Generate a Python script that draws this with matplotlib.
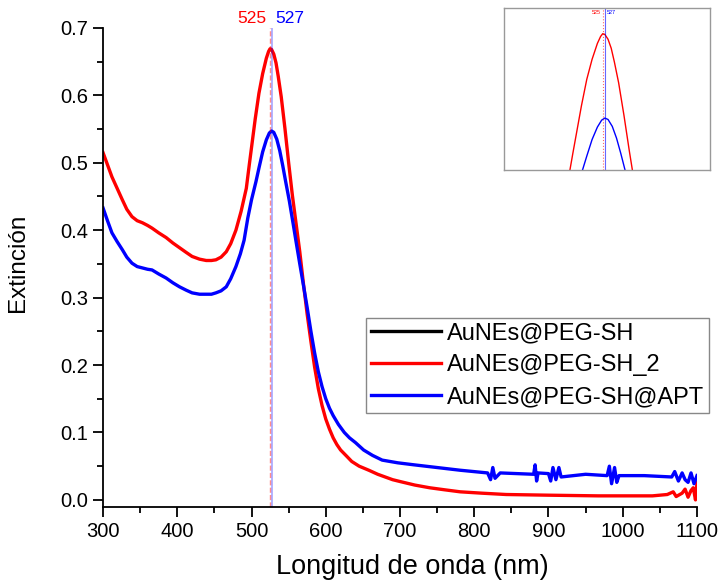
import numpy as np
import matplotlib
matplotlib.use("Agg")
import matplotlib.pyplot as plt
from matplotlib.ticker import MultipleLocator

plt.rcParams['font.family'] = ['Liberation Sans', 'DejaVu Sans']

# Spektren
wl_red = [300, 306, 312, 319, 326, 332, 339, 346, 353, 360, 366, 375, 385, 394, 403,
          412, 420, 430, 439, 446, 452, 459, 466, 472, 479, 486, 493, 497, 501, 505,
          510, 515, 520, 523, 525, 527, 530, 533, 536, 540, 545, 550, 555, 560, 565,
          570, 575, 580, 585, 590, 595, 600, 605, 610, 615, 620, 628, 635, 645, 658,
          670, 680, 690, 701, 720, 740, 760, 781, 810, 843, 900, 967, 1000, 1040, 1060,
          1068, 1072, 1080, 1084, 1088, 1092, 1095, 1098, 1100]
ext_red = [0.515, 0.497, 0.479, 0.462, 0.445, 0.431, 0.420, 0.414, 0.411, 0.407, 0.403,
           0.396, 0.389, 0.381, 0.374, 0.367, 0.361, 0.357, 0.355, 0.355, 0.356, 0.360,
           0.368, 0.380, 0.400, 0.428, 0.462, 0.497, 0.531, 0.565, 0.603, 0.632, 0.655,
           0.665, 0.669, 0.668, 0.661, 0.648, 0.628, 0.598, 0.551, 0.500, 0.452, 0.410,
           0.368, 0.320, 0.275, 0.235, 0.197, 0.165, 0.140, 0.120, 0.105, 0.092, 0.082,
           0.074, 0.065, 0.057, 0.050, 0.044, 0.038, 0.034, 0.030, 0.027, 0.022, 0.018,
           0.015, 0.012, 0.010, 0.008, 0.007, 0.006, 0.006, 0.006, 0.008, 0.012, 0.005,
           0.010, 0.016, 0.004, 0.014, 0.018, 0.000, 0.026]

wl_blue = [300, 306, 312, 319, 326, 332, 339, 346, 353, 360, 366, 375, 385, 394, 403,
           412, 420, 430, 439, 446, 452, 459, 466, 472, 479, 485, 490, 495, 500, 506,
           510, 515, 520, 524, 527, 530, 534, 538, 542, 546, 551, 556, 560, 565, 570,
           575, 580, 585, 590, 595, 600, 605, 610, 617, 625, 632, 640, 651, 663, 676,
           697, 719, 750, 781, 818, 822, 825, 828, 835, 880, 882, 884, 886, 900, 903,
           906, 910, 914, 917, 950, 979, 982, 985, 989, 992, 995, 1029, 1066, 1070,
           1075, 1080, 1084, 1088, 1092, 1096, 1100]
ext_blue = [0.433, 0.414, 0.396, 0.383, 0.371, 0.360, 0.351, 0.346, 0.344, 0.342, 0.341,
            0.335, 0.329, 0.322, 0.316, 0.311, 0.307, 0.305, 0.305, 0.305, 0.307, 0.310,
            0.316, 0.328, 0.346, 0.365, 0.385, 0.418, 0.445, 0.472, 0.492, 0.516, 0.534,
            0.544, 0.547, 0.545, 0.535, 0.518, 0.496, 0.472, 0.443, 0.410, 0.383, 0.350,
            0.318, 0.285, 0.250, 0.218, 0.190, 0.168, 0.150, 0.136, 0.125, 0.112, 0.100,
            0.092, 0.085, 0.074, 0.066, 0.059, 0.055, 0.052, 0.048, 0.044, 0.040, 0.030,
            0.048, 0.032, 0.040, 0.038, 0.052, 0.028, 0.040, 0.039, 0.028, 0.048, 0.030,
            0.048, 0.034, 0.038, 0.036, 0.050, 0.024, 0.048, 0.026, 0.036, 0.036, 0.034,
            0.042, 0.028, 0.040, 0.030, 0.026, 0.040, 0.024, 0.036]

labels = ["AuNEs@PEG-SH", "AuNEs@PEG-SH_2", "AuNEs@PEG-SH@APT"]
peaks = [525, 527]

fig = plt.figure(figsize=(7.23, 5.8), dpi=100)
ax = fig.add_axes([0.1425, 0.126, 0.8215, 0.826])

ax.plot([], [], color='black', lw=2.4, label=labels[0])
ax.plot(wl_red, ext_red, color='red', lw=2.4, label=labels[1])
ax.plot(wl_blue, ext_blue, color='blue', lw=2.4, label=labels[2])

ax.axvline(peaks[0], color='red', ls='--', lw=1, alpha=0.45)
ax.axvline(peaks[1], color='blue', lw=1.2, alpha=0.35)
ax.text(peaks[0] - 5, 0.703, str(peaks[0]), color='red', fontsize=12.5, ha='right', va='bottom')
ax.text(peaks[1] + 5, 0.703, str(peaks[1]), color='blue', fontsize=12.5, ha='left', va='bottom')

ax.set_xlim(300, 1100)
ax.set_ylim(-0.0104, 0.7)
ax.xaxis.set_major_locator(MultipleLocator(100))
ax.xaxis.set_minor_locator(MultipleLocator(50))
ax.yaxis.set_major_locator(MultipleLocator(0.1))
ax.yaxis.set_minor_locator(MultipleLocator(0.05))
ax.tick_params(which='major', direction='out', length=7, width=1.3, labelsize=14.5)
ax.tick_params(which='minor', direction='out', length=4, width=1.3)
ax.spines['top'].set_visible(False)
ax.spines['right'].set_visible(False)
ax.spines['left'].set_linewidth(1.3)
ax.spines['bottom'].set_linewidth(1.3)
ax.set_xlabel('Longitud de onda (nm)', fontsize=19.5)
ax.set_ylabel('Extinción', fontsize=17.5)
ax.xaxis.set_label_coords(0.52, -0.098)
ax.yaxis.set_label_coords(-0.125, 0.51)

leg = fig.legend(loc='upper left', bbox_to_anchor=(0.506, 0.452), fontsize=17,
                 handlelength=3.0, handletextpad=0.25, labelspacing=0.42,
                 borderpad=0.2, borderaxespad=0, fancybox=False,
                 edgecolor='#888888', framealpha=1)
leg.get_frame().set_linewidth(1)

# Ausschnitt um das Maximum
ins = fig.add_axes([0.697, 0.707, 0.285, 0.279])
ins.plot(wl_red, ext_red, color='red', lw=1)
ins.plot(wl_blue, ext_blue, color='blue', lw=1)
ins.axvline(peaks[0], color='red', ls=':', lw=0.8, alpha=0.6)
ins.axvline(peaks[1], color='blue', lw=0.8, alpha=0.6)
ins.text(peaks[0] - 2, 0.703, str(peaks[0]), color='red', fontsize=4, ha='right', va='top')
ins.text(peaks[1] + 2, 0.703, str(peaks[1]), color='blue', fontsize=4, ha='left', va='top')
ins.set_xlim(432, 626)
ins.set_ylim(0.472, 0.706)
ins.set_xticks([])
ins.set_yticks([])
for s in ins.spines.values():
    s.set_color('#999999')
    s.set_linewidth(1)

fig.savefig('out.png', dpi=100)
